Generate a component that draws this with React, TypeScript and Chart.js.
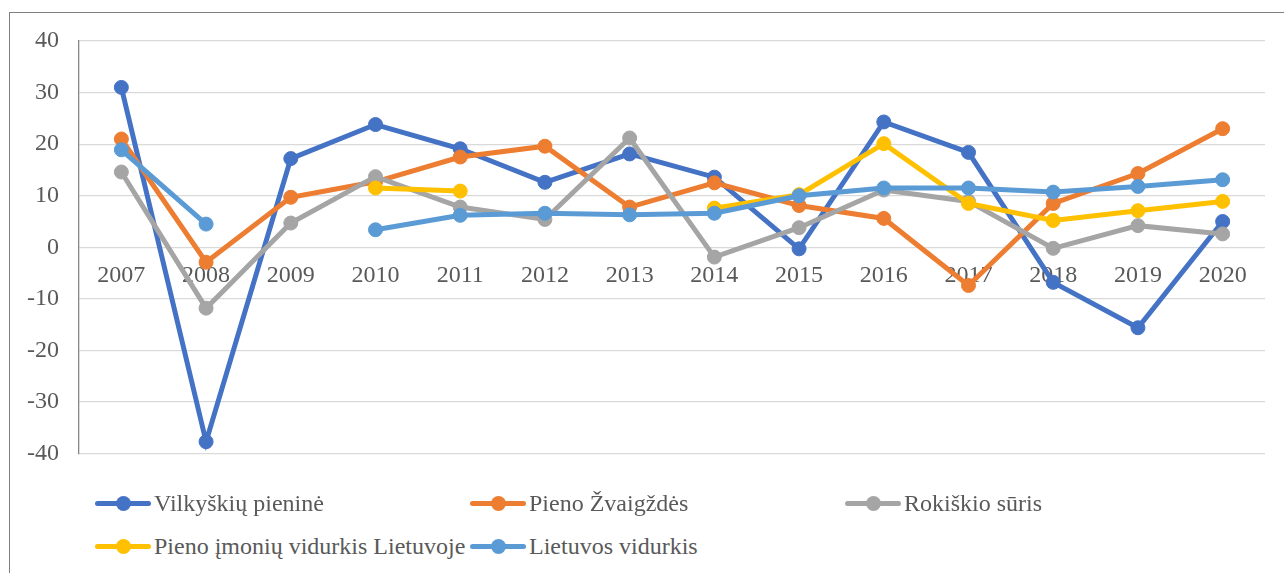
import React, { useEffect, useRef } from "react";
import { Chart, registerables } from "chart.js";

Chart.register(...registerables);

const years = ["2007", "2008", "2009", "2010", "2011", "2012", "2013", "2014", "2015", "2016", "2017", "2018", "2019", "2020"];
const vilkyskiuPienine = [31.0, -37.7, 17.2, 23.8, 19.1, 12.6, 18.1, 13.6, -0.3, 24.3, 18.4, -6.8, -15.6, 5.0];
const pienoZvaigzdes = [21.0, -2.9, 9.7, 12.7, 17.5, 19.6, 7.8, 12.5, 8.1, 5.6, -7.4, 8.5, 14.3, 23.0];
const rokiskioSuris = [14.6, -11.8, 4.7, 13.7, 7.8, 5.4, 21.2, -1.9, 3.8, 11.1, 8.9, -0.2, 4.2, 2.6];
const pienoImoniuVidurkis = [null, null, null, 11.5, 10.9, null, null, 7.6, 10.2, 20.1, 8.5, 5.2, 7.1, 8.9];
const lietuvosVidurkis = [18.9, 4.5, null, 3.4, 6.2, 6.6, 6.3, 6.6, 10.0, 11.5, 11.5, 10.7, 11.8, 13.1];

const seriesNames = ["Vilkyškių pieninė", "Pieno Žvaigždės", "Rokiškio sūris", "Pieno įmonių vidurkis Lietuvoje", "Lietuvos vidurkis"];
const seriesColors = ["#4472C4", "#ED7D31", "#A5A5A5", "#FFC000", "#5B9BD5"];
const seriesData = [vilkyskiuPienine, pienoZvaigzdes, rokiskioSuris, pienoImoniuVidurkis, lietuvosVidurkis];

const yTicks = { min: -40, max: 40, step: 10 };

const FONT = "'Liberation Serif', 'Times New Roman', serif";
const TEXT = "#595959";

export default function App() {
  const canvasRef = useRef<HTMLCanvasElement | null>(null);

  useEffect(() => {
    if (!canvasRef.current) return;
    const chart = new Chart(canvasRef.current, {
      type: "line",
      data: {
        labels: years,
        datasets: seriesData.map((d, i) => ({
          label: seriesNames[i],
          data: d,
          borderColor: seriesColors[i],
          backgroundColor: seriesColors[i],
          pointBackgroundColor: seriesColors[i],
          pointBorderColor: seriesColors[i],
          borderWidth: 5,
          pointRadius: 7,
          pointBorderWidth: 1,
          spanGaps: false,
          tension: 0,
          order: seriesData.length - i,
        })),
      },
      options: {
        animation: false,
        responsive: true,
        maintainAspectRatio: false,
        layout: { padding: { top: 41, right: 19, bottom: 17, left: 0 } },
        plugins: {
          legend: { display: false },
          tooltip: { enabled: false },
        },
        scales: {
          x: {
            type: "category",
            offset: true,
            position: { y: 0 } as any,
            grid: { display: false, drawTicks: false },
            border: { display: false },
            ticks: {
              color: TEXT,
              font: { family: FONT, size: 24 },
              padding: 14,
              maxRotation: 0,
              autoSkip: false,
            },
          },
          y: {
            min: yTicks.min,
            max: yTicks.max,
            ticks: {
              stepSize: yTicks.step,
              color: TEXT,
              font: { family: FONT, size: 24 },
              padding: 20,
            },
            grid: { color: "#D9D9D9", lineWidth: 1.3, drawTicks: false },
            border: { display: true, color: "#868686", width: 1.3 },
            afterFit: (scale: any) => {
              scale.width = 79;
            },
          },
        },
      },
    });
    return () => chart.destroy();
  }, []);

  const legendItems = seriesNames.map((name, i) => {
    const col = i % 3;
    const row = Math.floor(i / 3);
    return (
      <div
        key={name}
        style={{
          position: "absolute",
          left: 95 + col * 375,
          top: 503 + row * 43 - 16,
          height: 32,
          display: "flex",
          alignItems: "center",
          whiteSpace: "nowrap",
        }}
      >
        <div style={{ position: "relative", width: 56, height: 32, marginRight: 3 }}>
          <div
            style={{
              position: "absolute",
              left: 0,
              top: 13.5,
              width: 56,
              height: 5,
              borderRadius: 2.5,
              background: seriesColors[i],
            }}
          />
          <div
            style={{
              position: "absolute",
              left: 28 - 7.5,
              top: 16 - 7.5,
              width: 15,
              height: 15,
              borderRadius: "50%",
              background: seriesColors[i],
            }}
          />
        </div>
        <span style={{ fontFamily: FONT, fontSize: 24, color: TEXT, lineHeight: "32px" }}>{name}</span>
      </div>
    );
  });

  return (
    <div
      style={{
        position: "absolute",
        left: 0,
        top: 0,
        width: 1284,
        height: 573,
        overflow: "hidden",
        background: "#ffffff",
      }}
    >
      <div
        style={{
          position: "absolute",
          left: 9,
          top: 12,
          width: 1300,
          height: 600,
          borderLeft: "1px solid #7f7f7f",
          borderTop: "1px solid #7f7f7f",
        }}
      />
      <div style={{ position: "absolute", left: 0, top: 0, width: 1284, height: 488 }}>
        <canvas ref={canvasRef} />
      </div>
      {legendItems}
    </div>
  );
}
